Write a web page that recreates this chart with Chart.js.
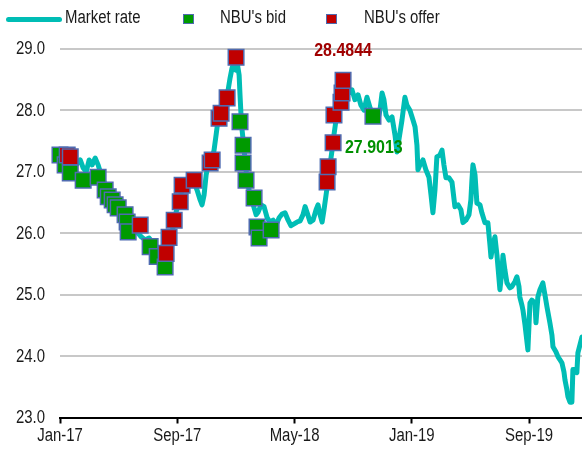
<!DOCTYPE html>
<html>
<head>
<meta charset="utf-8">
<script src="https://cdn.jsdelivr.net/npm/chart.js@4/dist/chart.umd.min.js"></script>
<style>
  html, body { margin: 0; padding: 0; background: #fff; }
  #wrap { position: relative; width: 582px; height: 450px; overflow: hidden; }
  #c { position: absolute; left: 0; top: 0; }
  .lg { position: absolute; font-family: 'Liberation Sans', Arial, sans-serif; font-size: 18px; line-height: 18px; color: #1a1a1a; top: 8px; white-space: nowrap; transform: scaleX(0.83); transform-origin: 0 0; }
  .sw { position: absolute; box-sizing: border-box; }
</style>
</head>
<body>
<div id="wrap">
  <canvas id="c" width="582" height="450"></canvas>
  <div class="sw" style="left:6px;top:17px;width:56px;height:5px;border-radius:2.5px;background:#00bdb5"></div>
  <div class="lg" style="left:65px">Market rate</div>
  <div class="sw" style="left:183px;top:14px;width:11px;height:10px;background:#009a00;border:1.5px solid #4f6bb0"></div>
  <div class="lg" style="left:220px">NBU's bid</div>
  <div class="sw" style="left:326px;top:14px;width:11px;height:10px;background:#c00000;border:1.5px solid #4f6bb0"></div>
  <div class="lg" style="left:364px">NBU's offer</div>
</div>
<script>
// x values are months since January 2017
const tickMonths = [0, 8, 16, 24, 32];
const tickLabels = ['Jan-17', 'Sep-17', 'May-18', 'Jan-19', 'Sep-19'];

const rateMonths = [
  0.00, 0.29, 0.56, 0.83, 1.10, 1.38, 1.58, 1.79, 1.99, 2.19, 2.40, 2.60, 2.81, 3.08, 3.35, 3.62, 3.90, 4.17, 4.44, 4.72,
  4.99, 5.26, 5.54, 5.81, 6.08, 6.28, 6.49, 6.69, 6.90, 7.10, 7.24, 7.38, 7.51, 7.65, 7.79, 7.92, 8.06, 8.20, 8.33, 8.54,
  8.74, 8.94, 9.15, 9.35, 9.56, 9.69, 9.83, 9.97, 10.10, 10.24, 10.38, 10.51, 10.65, 10.78, 10.92, 11.06, 11.19, 11.33, 11.47, 11.60,
  11.74, 11.88, 12.01, 12.08, 12.22, 12.28, 12.35, 12.42, 12.56, 12.69, 12.83, 12.97, 13.10, 13.24, 13.38, 13.51, 13.72, 13.92, 14.13, 14.33,
  14.54, 14.74, 14.95, 15.15, 15.35, 15.56, 15.76, 15.97, 16.17, 16.38, 16.58, 16.72, 16.85, 17.06, 17.26, 17.47, 17.60, 17.74, 17.88, 18.01,
  18.15, 18.29, 18.42, 18.56, 18.69, 18.83, 18.97, 19.10, 19.31, 19.51, 19.72, 19.92, 20.12, 20.33, 20.53, 20.74, 20.94, 21.15, 21.35, 21.56,
  21.69, 21.83, 21.97, 22.10, 22.24, 22.44, 22.65, 22.85, 22.99, 23.12, 23.33, 23.53, 23.67, 23.87, 24.08, 24.22, 24.35, 24.42, 24.56, 24.76,
  24.96, 25.17, 25.31, 25.44, 25.58, 25.71, 25.92, 26.06, 26.19, 26.33, 26.53, 26.74, 26.94, 27.15, 27.35, 27.49, 27.69, 27.90, 28.03, 28.10,
  28.17, 28.31, 28.44, 28.65, 28.78, 28.99, 29.19, 29.33, 29.40, 29.53, 29.67, 29.81, 30.01, 30.15, 30.22, 30.35, 30.49, 30.69, 30.83, 31.03,
  31.17, 31.31, 31.37, 31.51, 31.58, 31.72, 31.92, 32.06, 32.19, 32.40, 32.47, 32.60, 32.74, 32.94, 33.08, 33.22, 33.42, 33.56, 33.63, 33.83,
  33.97, 34.10, 34.24, 34.38, 34.45, 34.58, 34.65, 34.79, 34.92, 34.99, 35.13, 35.26, 35.33, 35.47, 35.61
];
const rateValues = [
  27.35, 27.19, 27.11, 27.06, 27.11, 27.19, 27.06, 27.00, 27.19, 27.11, 27.22, 27.11, 26.95, 26.78, 26.62, 26.54, 26.46, 26.38, 26.30, 26.18,
  26.08, 26.02, 25.94, 25.89, 25.92, 25.86, 25.73, 25.60, 25.47, 25.44, 25.53, 25.73, 25.89, 26.02, 26.18, 26.34, 26.46, 26.57, 26.73, 26.81,
  26.86, 26.90, 26.83, 26.70, 26.54, 26.46, 26.62, 26.95, 27.11, 27.19, 27.22, 27.35, 27.60, 27.84, 27.97, 28.04, 28.17, 28.25, 28.33, 28.52,
  28.69, 28.78, 28.65, 28.78, 28.57, 28.25, 27.92, 27.68, 27.35, 27.03, 26.78, 26.62, 26.54, 26.41, 26.30, 26.34, 26.46, 26.43, 26.25, 26.18,
  26.21, 26.13, 26.25, 26.31, 26.33, 26.21, 26.12, 26.15, 26.18, 26.20, 26.30, 26.43, 26.34, 26.18, 26.21, 26.38, 26.46, 26.30, 26.18, 26.38,
  26.62, 26.86, 27.11, 27.35, 27.60, 27.84, 28.04, 28.17, 28.30, 28.36, 28.28, 28.33, 28.17, 28.25, 28.08, 28.00, 28.21, 28.04, 27.92, 27.97,
  27.84, 28.00, 28.28, 28.17, 27.92, 27.84, 27.89, 27.60, 27.32, 27.52, 27.84, 28.21, 28.08, 28.00, 27.84, 27.73, 27.43, 27.03, 27.11, 27.19,
  27.03, 26.91, 26.62, 26.33, 26.70, 27.24, 27.27, 27.35, 27.11, 26.90, 26.90, 26.83, 26.43, 26.46, 26.38, 26.17, 26.21, 26.30, 26.54, 26.86,
  27.11, 26.95, 26.49, 26.46, 26.33, 26.17, 26.17, 25.81, 25.61, 25.81, 25.94, 25.64, 25.08, 25.40, 25.64, 25.40, 25.19, 25.11, 25.13, 25.21,
  25.29, 25.13, 24.96, 24.83, 24.75, 24.51, 24.10, 24.86, 24.91, 24.86, 24.54, 24.96, 25.08, 25.19, 25.00, 24.80, 24.54, 24.34, 24.15, 24.07,
  23.99, 23.94, 23.89, 23.74, 23.61, 23.45, 23.34, 23.25, 23.25, 23.78, 23.78, 23.73, 24.05, 24.18, 24.31
];

const bidMonths = [0.00, 0.35, 0.70, 1.58, 2.60, 3.08, 3.29, 3.56, 3.76, 3.97, 4.44, 4.58, 4.65, 6.15, 6.63, 7.17,
  12.28, 12.49, 12.49, 12.69, 13.24, 13.44, 13.58, 14.40, 21.35];
const bidValues = [27.27, 27.11, 26.98, 26.86, 26.91, 26.70, 26.59, 26.54, 26.46, 26.41, 26.30, 26.18, 26.02, 25.78, 25.62, 25.45,
  27.81, 27.43, 27.14, 26.86, 26.57, 26.10, 25.92, 26.05, 27.9013];

const offerMonths = [0.49, 0.70, 5.47, 7.24, 7.44, 7.79, 8.20, 8.33, 9.15, 10.24, 10.38, 10.85, 10.99, 11.40, 12.01,
  18.22, 18.29, 18.63, 18.69, 19.17, 19.24, 19.31];
const offerValues = [27.27, 27.24, 26.13, 25.67, 25.93, 26.21, 26.51, 26.78, 26.86, 27.14, 27.19, 27.87, 27.95, 28.20, 28.86,
  26.83, 27.08, 27.47, 27.92, 28.13, 28.28, 28.4844];

const yMin = 23, yMax = 29;

const toXY = (xs, ys) => xs.map((x, i) => ({ x: x, y: ys[i] }));

const FONT = "'Liberation Sans', Arial, sans-serif";
const NARROW = 0.83;

function narrowText(ctx, text, x, y, align, baseline, font, color, sx) {
  ctx.save();
  ctx.font = font;
  ctx.fillStyle = color;
  ctx.textAlign = align;
  ctx.textBaseline = baseline;
  ctx.translate(x, y);
  ctx.scale(sx, 1);
  ctx.fillText(text, 0, 0);
  ctx.restore();
}

// axis tick labels drawn in a narrow face, plus last-bid / last-offer value labels
const textPlugin = {
  id: 'textPlugin',
  afterDraw(chart) {
    const ctx = chart.ctx;
    const xs = chart.scales.x, ys = chart.scales.y;
    const f = '18px ' + FONT;
    ys.ticks.forEach(t => {
      narrowText(ctx, t.value.toFixed(1), ys.right - 15, ys.getPixelForValue(t.value) + 0.5, 'right', 'middle', f, '#1a1a1a', NARROW);
    });
    xs.ticks.forEach((t, i) => {
      narrowText(ctx, tickLabels[i], xs.getPixelForValue(t.value), xs.top + 23.5, 'center', 'alphabetic', f, '#1a1a1a', NARROW);
    });
    const items = [
      { x: offerMonths[offerMonths.length - 1], y: offerValues[offerValues.length - 1], color: '#a00000', dx: 0, dy: -30, align: 'center' },
      { x: bidMonths[bidMonths.length - 1], y: bidValues[bidValues.length - 1], color: '#009000', dx: -28, dy: 32, align: 'left' }
    ];
    items.forEach(it => {
      narrowText(ctx, it.y.toFixed(4), xs.getPixelForValue(it.x) + it.dx, ys.getPixelForValue(it.y) + it.dy, it.align, 'middle',
        'bold 19px ' + FONT, it.color, 0.84);
    });
  }
};

new Chart(document.getElementById('c'), {
  type: 'scatter',
  data: {
    datasets: [
      {
        label: 'Market rate',
        data: toXY(rateMonths, rateValues),
        showLine: true,
        borderColor: '#00bdb5',
        backgroundColor: '#00bdb5',
        borderWidth: 5,
        pointRadius: 0,
        borderJoinStyle: 'round',
        borderCapStyle: 'round',
        tension: 0,
        order: 3
      },
      {
        label: "NBU's bid",
        data: toXY(bidMonths, bidValues),
        pointStyle: 'rect',
        pointRadius: 11,
        pointHoverRadius: 11,
        backgroundColor: '#009a00',
        borderColor: '#4f6bb0',
        borderWidth: 1.5,
        clip: false,
        order: 2
      },
      {
        label: "NBU's offer",
        data: toXY(offerMonths, offerValues),
        pointStyle: 'rect',
        pointRadius: 11,
        pointHoverRadius: 11,
        backgroundColor: '#c00000',
        borderColor: '#4f6bb0',
        borderWidth: 1.5,
        clip: false,
        order: 1
      }
    ]
  },
  options: {
    responsive: false,
    animation: false,
    events: [],
    layout: { autoPadding: false, padding: { top: 48.7, left: 0, right: 0, bottom: 0 } },
    plugins: { legend: { display: false }, tooltip: { enabled: false } },
    scales: {
      x: {
        type: 'linear',
        min: 0,
        max: 35.61,
        afterBuildTicks: (s) => { s.ticks = tickMonths.map(v => ({ value: v })); },
        afterFit: (s) => { s.height = 32.5; },
        grid: { drawOnChartArea: false, drawTicks: true, tickLength: 6, tickColor: '#000', tickWidth: 2 },
        border: { display: true, color: '#000', width: 2 },
        ticks: { display: false, autoSkip: false, maxRotation: 0 }
      },
      y: {
        min: yMin,
        max: yMax,
        afterFit: (s) => { s.width = 60; },
        grid: { color: '#c8c8c8', lineWidth: 2, drawTicks: false },
        border: { display: false },
        ticks: { display: false, stepSize: 1 }
      }
    }
  },
  plugins: [textPlugin]
});
</script>
</body>
</html>
